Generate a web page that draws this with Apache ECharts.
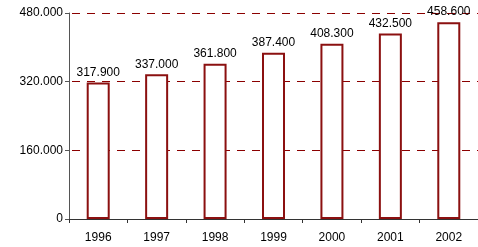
<!DOCTYPE html>
<html><head><meta charset="utf-8">
<script src="https://cdn.jsdelivr.net/npm/echarts@6/dist/echarts.min.js"></script>
<style>html,body{margin:0;padding:0;background:#fff;}#c{width:478px;height:247px;}</style>
</head><body><div id="c"></div>
<script>
const categories = ['1996','1997','1998','1999','2000','2001','2002'];
const values = [317.9, 337.0, 361.8, 387.4, 408.3, 432.5, 458.6];
const yTicks = [0, 160, 320, 480];

const chart = echarts.init(document.getElementById('c'), null, {renderer:'canvas'});
const font = 'Liberation Sans, Arial, sans-serif';
chart.setOption({
  animation: false,
  grid: {left: 69, right: -3, top: 13, bottom: 28, containLabel: false},
  xAxis: {
    type: 'category', data: categories,
    axisLine: {lineStyle: {color: '#333', width: 1}},
    axisTick: {show: true, length: 4, lineStyle: {color: '#333'}},
    axisLabel: {color: '#000', fontSize: 12, fontFamily: font, margin: 13}
  },
  yAxis: {
    type: 'value', min: yTicks[0], max: yTicks[yTicks.length - 1], interval: yTicks[1] - yTicks[0],
    axisLine: {show: true, lineStyle: {color: '#555', width: 1}},
    axisTick: {show: true, length: 4, lineStyle: {color: '#555'}},
    axisLabel: {color: '#000', fontSize: 12, fontFamily: font, margin: 6,
      formatter: v => v === 0 ? '0' : v.toFixed(3)},
    splitLine: {show: true, lineStyle: {color: '#8b0000', type: [8, 7], dashOffset: 12, width: 1}}
  },
  series: [{
    type: 'bar', data: values, barWidth: 23,
    itemStyle: {color: '#fff', borderColor: '#8b1010', borderWidth: 2},
    label: {show: true, position: 'top', distance: 4, color: '#000', fontSize: 12, fontFamily: font,
      formatter: p => p.value.toFixed(3)}
  }]
});
</script></body></html>
